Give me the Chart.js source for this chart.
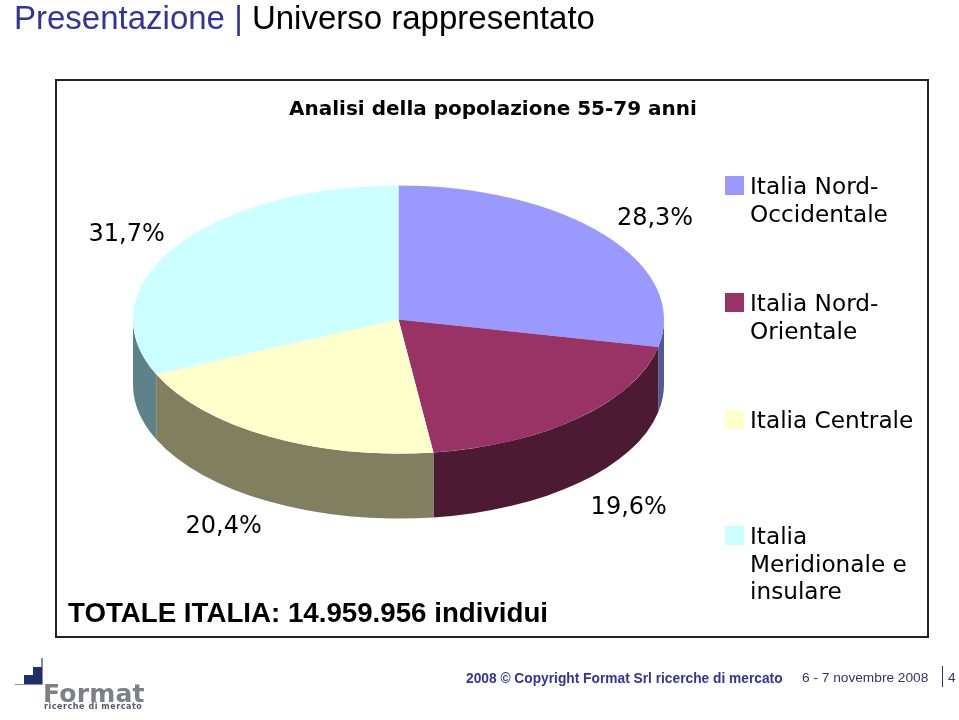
<!DOCTYPE html>
<html lang="it">
<head>
<meta charset="utf-8">
<title>Presentazione | Universo rappresentato</title>
<script src="https://cdn.jsdelivr.net/npm/chart.js@4"></script>
<style>
    html, body { margin: 0; padding: 0; background: #fff; overflow: hidden; }
    #page { position: relative; width: 959px; height: 720px; overflow: hidden; }
    #page > * { position: absolute; white-space: nowrap; }
    #myChart { left: 0; top: 0; }
    #header { left: 14px; top: -1px; font: 33px/38px "Liberation Sans", Arial, sans-serif; color: #000; }
    #header span { color: #333399; }
    #frame { left: 55px; top: 79px; width: 870px; height: 555px; border: 2px solid #222; }
    #chart-title { left: 289px; top: 95px; font: bold 20px/26px "DejaVu Sans", Verdana, sans-serif; color: #000; }
    #total { left: 68px; top: 597px; font: bold 27.7px/32px "Liberation Sans", Arial, sans-serif; color: #000; }
    .legend-box { width: 19px; height: 19px; left: 725px; }
    .legend-text { left: 750px; font: 23.2px/27.5px "DejaVu Sans", Verdana, sans-serif; color: #000; }
    #copyright { left: 466px; top: 670px; font: bold 13.75px/18px "Liberation Sans", Arial, sans-serif; color: #333399; }
    #date { left: 802px; top: 669px; font: 13.7px/18px "Liberation Sans", Arial, sans-serif; color: #333366; }
    #sep { left: 942px; top: 666px; width: 1px; height: 21px; background: #333366; }
    #pagenum { left: 948px; top: 669px; font: 13.7px/18px "Liberation Sans", Arial, sans-serif; color: #333366; }
    .logo-line { background: #8c8f94; }
    .logo-navy { background: #1f2f6b; }
    #logo-word { left: 43px; top: 681px; font: bold 25px/26px "DejaVu Sans", Verdana, sans-serif; color: #7d8085; letter-spacing: 0.2px; }
    #logo-sub { left: 44px; top: 702px; font: bold 8px/10px "DejaVu Sans", Verdana, sans-serif; color: #555a66; letter-spacing: 0.55px; }
</style>
</head>
<body>
<div id="page">
    <div id="frame"></div>
    <canvas id="myChart" width="959" height="720"></canvas>
    <div id="header"><span>Presentazione | </span>Universo rappresentato</div>
    <div id="chart-title">Analisi della popolazione 55-79 anni</div>
    <div id="total">TOTALE ITALIA: 14.959.956 individui</div>
    <div id="copyright">2008 © Copyright Format Srl ricerche di mercato</div>
    <div id="date">6 - 7 novembre 2008</div>
    <div id="sep"></div>
    <div id="pagenum">4</div>
    <div class="logo-line" style="left:41px;top:658px;width:2px;height:27px"></div>
    <div class="logo-line" style="left:15px;top:684px;width:27px;height:1px"></div>
    <div class="logo-navy" style="left:24px;top:675px;width:18px;height:9px"></div>
    <div class="logo-navy" style="left:33px;top:667px;width:9px;height:8px"></div>
    <div id="logo-word">Format</div>
    <div id="logo-sub">ricerche di mercato</div>
</div>

<script>
const categories = ['Italia Nord-Occidentale', 'Italia Nord-Orientale', 'Italia Centrale', 'Italia Meridionale e insulare'];
const legendLines = [['Italia Nord-', 'Occidentale'], ['Italia Nord-', 'Orientale'], ['Italia Centrale'], ['Italia', 'Meridionale e', 'insulare']];
const shares = [28.3, 19.6, 20.4, 31.7];
const topColors = ['#9999ff', '#993366', '#ffffcc', '#ccffff'];
const sideColors = ['#4d5c94', '#4d1a33', '#808060', '#5f8288'];
const legendTops = [176, 293, 410, 526];
const labelNudgeX = [5, 10, -17, 0];
const labelNudgeY = [3, 3, -1, 4];

const squash = 0.505;
const depth = 65;

// legend is plain html so the wrapped lines stay where they are in the slide
const page = document.getElementById('page');
categories.forEach(function(name, i) {
    const box = document.createElement('div');
    box.className = 'legend-box';
    box.style.top = legendTops[i] + 'px';
    box.style.background = topColors[i];
    page.appendChild(box);
    const text = document.createElement('div');
    text.className = 'legend-text';
    text.style.top = (legendTops[i] - 4) + 'px';
    text.innerHTML = legendLines[i].join('<br>');
    page.appendChild(text);
});

// squashes the pie into an ellipse and draws the rim under it
const pie3d = {
    id: 'pie3d',
    beforeDatasetsDraw(chart) {
        const ctx = chart.ctx;
        const arcs = chart.getDatasetMeta(0).data;
        arcs.forEach(function(arc, i) {
            const p = arc.getProps(['x', 'y', 'startAngle', 'endAngle', 'outerRadius'], true);
            const from = Math.max(p.startAngle, 0);
            const to = Math.min(p.endAngle, Math.PI);
            if (to <= from) return;
            const ry = p.outerRadius * squash;
            ctx.beginPath();
            ctx.ellipse(p.x, p.y, p.outerRadius, ry, 0, from, to);
            ctx.ellipse(p.x, p.y + depth, p.outerRadius, ry, 0, to, from, true);
            ctx.closePath();
            ctx.fillStyle = sideColors[i];
            ctx.fill();
        });
        const c = arcs[0].getProps(['x', 'y'], true);
        ctx.save();
        ctx.translate(c.x, c.y);
        ctx.scale(1, squash);
        ctx.translate(-c.x, -c.y);
    },
    afterDatasetsDraw(chart) {
        const ctx = chart.ctx;
        ctx.restore();
        ctx.save();
        ctx.font = '24px "DejaVu Sans", Verdana, sans-serif';
        ctx.fillStyle = '#000';
        ctx.textAlign = 'center';
        ctx.textBaseline = 'middle';
        chart.getDatasetMeta(0).data.forEach(function(arc, i) {
            const p = arc.getProps(['x', 'y', 'startAngle', 'endAngle', 'outerRadius'], true);
            const mid = (p.startAngle + p.endAngle) / 2;
            const dx = Math.cos(mid) * p.outerRadius * 1.22;
            const dy = Math.sin(mid) * p.outerRadius * 0.506 * 1.22;
            const drop = Math.sin(mid) > 0 ? depth : 0;
            const label = shares[i].toFixed(1).replace('.', ',') + '%';
            ctx.fillText(label, p.x + dx + labelNudgeX[i], p.y + dy + drop + labelNudgeY[i]);
        });
        ctx.restore();
    }
};

new Chart(document.getElementById('myChart').getContext('2d'), {
    type: 'pie',
    data: {
        labels: categories,
        datasets: [{
            data: shares,
            backgroundColor: topColors,
            borderWidth: 0
        }]
    },
    options: {
        responsive: false,
        animation: false,
        layout: { padding: { left: 133, right: 295, top: 54, bottom: 135 } },
        plugins: {
            legend: { display: false },
            tooltip: { enabled: false }
        }
    },
    plugins: [pie3d]
});
</script>
</body>
</html>
